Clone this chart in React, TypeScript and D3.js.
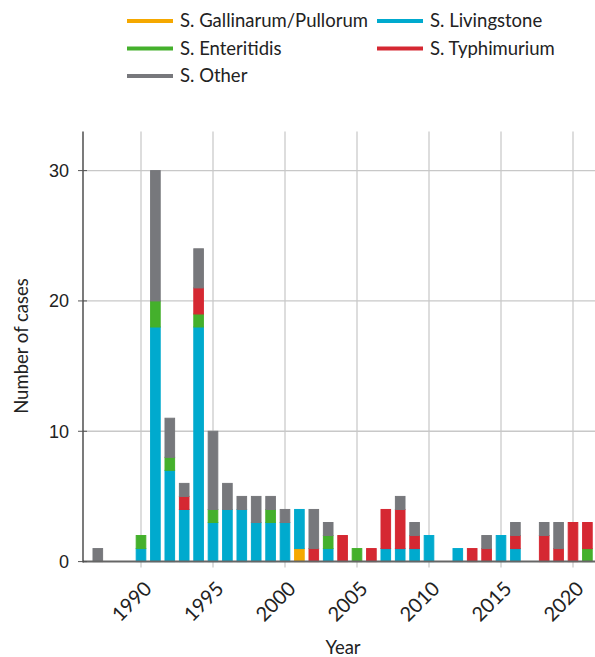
import React from "react";
import * as d3 from "d3";

const years = d3.range(1987, 2022);
const gallinarum = [0,0,0,0,0,0,0,0,0,0,0,0,0,0,1,0,0,0,0,0,0,0,0,0,0,0,0,0,0,0,0,0,0,0,0];
const livingstone = [0,0,0,1,18,7,4,18,3,4,4,3,3,3,3,0,1,0,0,0,1,1,1,2,0,1,0,0,2,1,0,0,0,0,0];
const enteritidis = [0,0,0,1,2,1,0,1,1,0,0,0,1,0,0,0,1,0,1,0,0,0,0,0,0,0,0,0,0,0,0,0,0,0,1];
const typhimurium = [0,0,0,0,0,0,1,2,0,0,0,0,0,0,0,1,0,2,0,1,3,3,1,0,0,0,1,1,0,1,0,2,1,3,2];
const other = [1,0,0,0,10,3,1,3,6,2,1,2,1,1,0,3,1,0,0,0,0,1,1,0,0,0,0,1,0,1,0,1,2,0,0];

const seriesNames = ["S. Gallinarum/Pullorum", "S. Livingstone", "S. Enteritidis", "S. Typhimurium", "S. Other"];
const seriesColors = ["#F5A800", "#00AACE", "#44B02C", "#D52832", "#77787C"];
const seriesValues = [gallinarum, livingstone, enteritidis, typhimurium, other];

const xTicks = [1990, 1995, 2000, 2005, 2010, 2015, 2020];
const yTicks = [0, 10, 20, 30];

// legend layout: [seriesIndex, column, row]
const legendLayout = [[0, 0, 0], [1, 1, 0], [2, 0, 1], [3, 1, 1], [4, 0, 2]];

export default function App() {
  const W = 595, H = 657;
  const left = 83, right = 595, top = 131.5, bottom = 561.6;
  const x = d3.scaleLinear().domain([1990, 2020]).range([141, 573]);
  const y = d3.scaleLinear().domain([0, 33]).range([bottom, top]);
  const barW = 9.6;

  const table = years.map((yr, i) => {
    const row: any = { year: yr };
    seriesNames.forEach((n, s) => (row[n] = seriesValues[s][i]));
    return row;
  });
  const stacked = d3.stack().keys(seriesNames)(table);

  const font = "Lato, 'Open Sans', sans-serif";

  return (
    <svg width={W} height={H} style={{ position: "absolute", left: 0, top: 0, background: "#fff" }}>
      {/* grid */}
      {xTicks.map((t) => (
        <line key={"gx" + t} x1={x(t)} x2={x(t)} y1={top} y2={bottom + 6} stroke="#cfcfcf" strokeWidth={1.4} />
      ))}
      {yTicks.filter((t) => t > 0).map((t) => (
        <line key={"gy" + t} x1={left} x2={right} y1={y(t)} y2={y(t)} stroke="#c8c8c8" strokeWidth={1.3} />
      ))}
      {/* bars */}
      {stacked.map((layer, s) => (
        <g key={layer.key} fill={seriesColors[s]}>
          {layer.map((d, i) =>
            d[1] - d[0] > 0 ? (
              <rect
                key={i}
                x={x(years[i]) - barW / 2}
                y={y(d[1])}
                width={barW}
                height={y(d[0]) - y(d[1])}
                stroke={seriesColors[s]}
                strokeWidth={1}
              />
            ) : null
          )}
        </g>
      ))}
      {/* axes */}
      <line x1={left} x2={right} y1={bottom} y2={bottom} stroke="#666" strokeWidth={2} />
      <line x1={left} x2={left} y1={top} y2={bottom + 1} stroke="#222" strokeWidth={1.2} />
      {yTicks.map((t) => (
        <g key={"yt" + t}>
          <line x1={left - 5} x2={left + 4} y1={y(t)} y2={y(t)} stroke="#555" strokeWidth={1} />
          <text x={69} y={y(t)} dy="0.36em" textAnchor="end" fontFamily="'Liberation Sans', Arial, sans-serif" fontSize={18} fill="#222">
            {t}
          </text>
        </g>
      ))}
      {xTicks.map((t) => (
        <text
          key={"xt" + t}
          transform={`translate(${x(t) + 7},585) rotate(-45)`}
          dy="0.35em"
          textAnchor="end"
          fontFamily={font}
          fontSize={20}
          fill="#222"
        >
          {t}
        </text>
      ))}
      <text transform="translate(22,346) rotate(-90)" dy="0.35em" textAnchor="middle" fontFamily={font} fontSize={18.5} fill="#222">
        Number of cases
      </text>
      <text x={343} y={654} textAnchor="middle" fontFamily={font} fontSize={18.5} fill="#222">
        Year
      </text>
      {/* legend */}
      {legendLayout.map(([s, c, r]) => {
        const sx = c === 0 ? 127 : 377;
        const ly = 21 + r * 27.5;
        return (
          <g key={"lg" + s}>
            <line x1={sx} x2={sx + 46} y1={ly} y2={ly} stroke={seriesColors[s]} strokeWidth={4} />
            <text x={sx + 53} y={ly} dy="0.35em" fontFamily={font} fontSize={18.5} fill="#222">
              {seriesNames[s]}
            </text>
          </g>
        );
      })}
    </svg>
  );
}
